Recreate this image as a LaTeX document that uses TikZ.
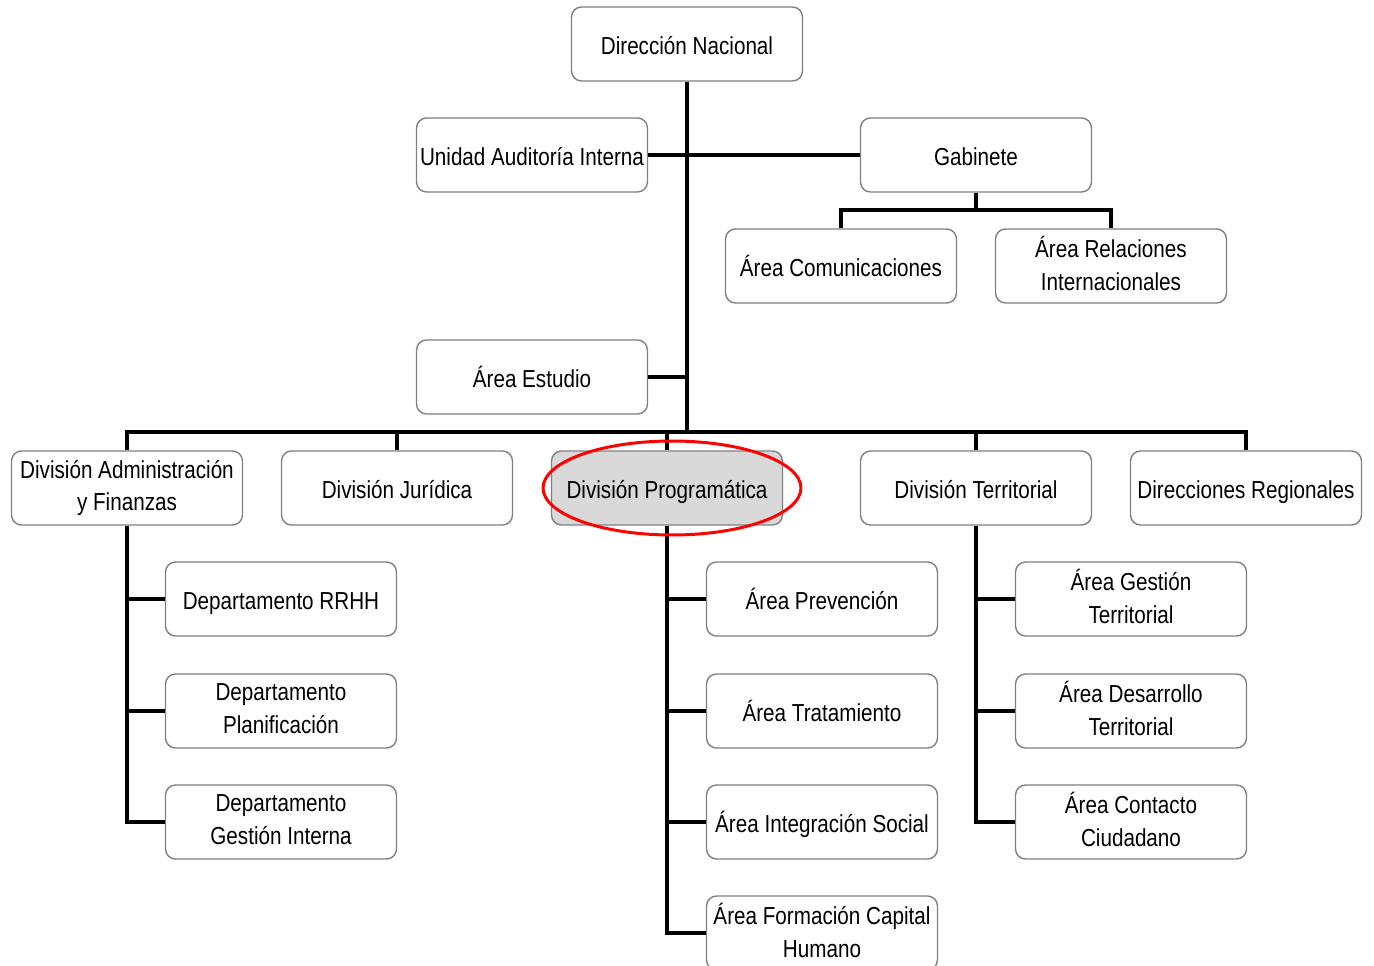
\documentclass[tikz,border=0pt]{standalone}
\usepackage{fontspec}
\setmainfont{Liberation Sans}[FakeStretch=0.84]
\usetikzlibrary{positioning}
\usetikzlibrary{calc}

\begin{document}
\begin{tikzpicture}
  [x=0.02cm,y=-0.02cm,
  box/.style={draw=black!50,fill=white,line width=0.8pt,rounded corners=0.2cm,minimum width=4.62cm,minimum height=1.48cm,inner sep=1pt,align=center,font=\fontsize{14}{18.5}\selectfont,execute at begin node=\vphantom{Áy}\raisebox{2.8pt}{\vphantom{Á}}},
  greybox/.style={box,fill=black!15},
  link/.style={draw=black,line width=2.7pt}]
  \useasboundingbox (0,0) rectangle (1374,966);

  \node[box] (dn) at (687,44) {Dirección Nacional};
  \node[box] (uai) at (532,155) {Unidad Auditoría Interna};
  \node[box] (gab) at (976,155) {Gabinete};
  \node[box] (com) at (841,266) {Área Comunicaciones};
  \node[box] (rel) at (1111,266) {Área Relaciones\\Internacionales};
  \node[box] (est) at (532,377) {Área Estudio};

  \node[box] (dadm) at (127,488) {División Administración\\y Finanzas};
  \node[box] (djur) at (397,488) {División Jurídica};
  \node[greybox] (dprog) at (667,488) {División Programática};
  \node[box] (dter) at (976,488) {División Territorial};
  \node[box] (dreg) at (1246,488) {Direcciones Regionales};

  \node[box] (rrhh) at (281,599) {Departamento RRHH};
  \node[box] (plan) at (281,711) {Departamento\\Planificación};
  \node[box] (gint) at (281,822) {Departamento\\Gestión Interna};

  \node[box] (prev) at (822,599) {Área Prevención};
  \node[box] (trat) at (822,711) {Área Tratamiento};
  \node[box] (integ) at (822,822) {Área Integración Social};
  \node[box] (form) at (822,933) {Área Formación Capital\\Humano};

  \node[box] (gter) at (1131,599) {Área Gestión\\Territorial};
  \node[box] (dester) at (1131,711) {Área Desarrollo\\Territorial};
  \node[box] (cont) at (1131,822) {Área Contacto\\Ciudadano};

  \coordinate (bus) at (687,432);
  \coordinate (gabj) at (976,210);

  \draw[link] (dn) -- (bus);
  \draw[link] (uai) -- (gab);
  \draw[link] (est.east) -- (est.east -| bus);
  \draw[link] (gab) -- (gabj);
  \draw[link] (com) |- (gabj) -| (rel);

  \draw[link] (dadm) |- (bus) -| (dreg);
  \draw[link] (djur) -- (djur |- bus);
  \draw[link] (dprog) -- (dprog |- bus);
  \draw[link] (dter) -- (dter |- bus);

  \draw[link] (dadm) |- (rrhh);
  \draw[link] (dadm) |- (plan);
  \draw[link] (dadm) |- (gint);

  \draw[link] (dprog) |- (prev);
  \draw[link] (dprog) |- (trat);
  \draw[link] (dprog) |- (integ);
  \draw[link] (dprog) |- (form);

  \draw[link] (dter) |- (gter);
  \draw[link] (dter) |- (dester);
  \draw[link] (dter) |- (cont);

  \draw[red,line width=1.7pt] ([xshift=0.1cm]dprog.center) ellipse [x radius=2.58cm,y radius=0.94cm];

  \end{tikzpicture}
\end{document}
